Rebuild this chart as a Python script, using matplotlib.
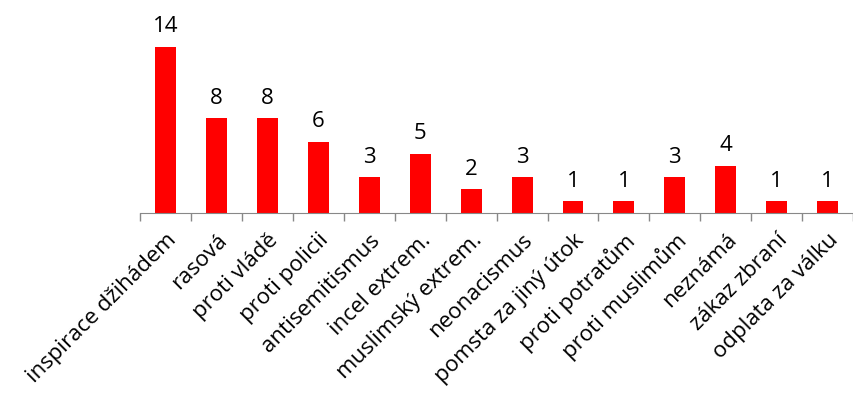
import matplotlib.pyplot as plt
import numpy as np

categories = ["inspirace džihádem", "rasová", "proti vládě", "proti policii",
              "antisemitismus", "incel extrem.", "muslimský extrem.", "neonacismus",
              "pomsta za jiný útok", "proti potratům", "proti muslimům", "neznámá",
              "zákaz zbraní", "odplata za válku"]
values = [14, 8, 8, 6, 3, 5, 2, 3, 1, 1, 3, 4, 1, 1]

plt.rcParams['font.family'] = ['Open Sans', 'DejaVu Sans']

fig = plt.figure(figsize=(8.54, 3.99), dpi=100)
ax = fig.add_axes([0.164, 0.466, 0.835, 0.476])

x = np.arange(len(categories))
bars = ax.bar(x, values, width=0.41, color='#ff0000')
for b, v in zip(bars, values):
    ax.text(b.get_x() + b.get_width() / 2, v + 0.8, str(v), ha='center', va='bottom',
            fontsize=16, clip_on=False)

ax.set_xlim(-0.5, len(categories) - 0.5)
ax.set_ylim(0, 16)
ax.set_yticks([])
for s in ['top', 'right', 'left']:
    ax.spines[s].set_visible(False)
ax.spines['bottom'].set_color('#888888')

ax.set_xticks(x)
ax.set_xticklabels(categories, rotation=45, ha='right', rotation_mode='anchor', fontsize=16)
ax.tick_params(axis='x', which='major', length=0, pad=12)
ax.set_xticks(np.arange(len(categories) + 1) - 0.5, minor=True)
ax.tick_params(axis='x', which='minor', length=6, color='#888888', width=1)

fig.savefig('out.png', dpi=100)
